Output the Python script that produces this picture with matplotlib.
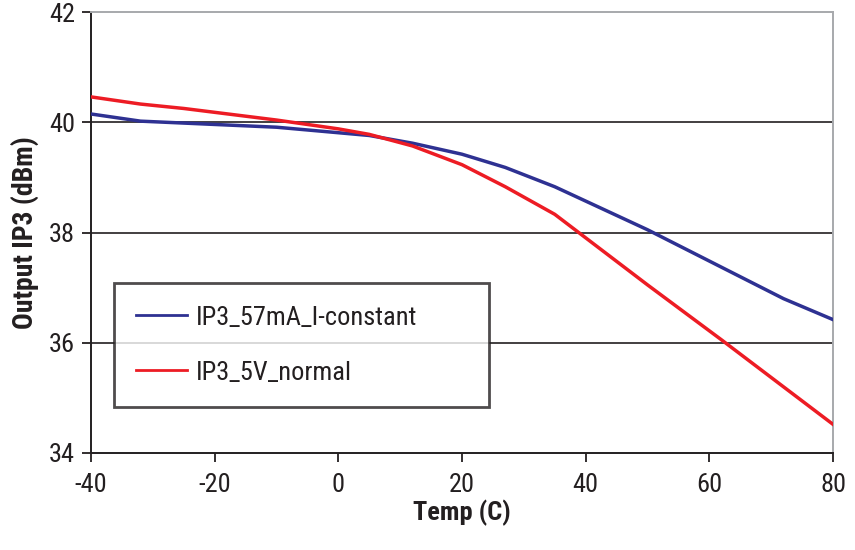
import matplotlib
matplotlib.use("Agg")
import matplotlib.pyplot as plt
from matplotlib import font_manager

# ---- data ----
temp_blue = [-40, -32, -20, -10, 0, 5, 12, 20, 27, 35, 50, 72, 80]
ip3_blue = [40.15, 40.02, 39.96, 39.91, 39.81, 39.76, 39.62, 39.42, 39.18, 38.83, 38.05, 36.80, 36.42]
temp_red = [-40, -32, -25, -10, 0, 5, 12, 20, 27, 35, 50, 62, 80]
ip3_red = [40.46, 40.33, 40.25, 40.04, 39.88, 39.78, 39.57, 39.23, 38.83, 38.33, 37.05, 36.05, 34.52]
label_blue = "IP3_57mA_I-constant"
label_red = "IP3_5V_normal"
x_ticks = [-40, -20, 0, 20, 40, 60, 80]
y_ticks = [34, 36, 38, 40, 42]
grid_levels = [36, 38, 40]

names = {f.name for f in font_manager.fontManager.ttflist}
family = "Liberation Sans"
for cand in ["Roboto Condensed", "Liberation Sans Narrow", "DejaVu Sans Condensed", "Open Sans Condensed"]:
    if cand in names:
        family = cand
        break
plt.rcParams['font.family'] = [family, 'DejaVu Sans']
plt.rcParams['axes.unicode_minus'] = False

ink = '#231F20'
fig = plt.figure(figsize=(8.55, 5.5), dpi=100)
ax = fig.add_axes([91/855, 1 - 453/550, 742/855, 441/550])

ax.plot(temp_blue, ip3_blue, color='#2E3192', lw=2.5, label=label_blue, zorder=3)
ax.plot(temp_red, ip3_red, color='#ED1C24', lw=2.5, label=label_red, zorder=3)

ax.set_xlim(-40, 80)
ax.set_ylim(34, 42)
ax.set_xticks(x_ticks)
ax.set_yticks(y_ticks)
for yv in grid_levels:
    ax.axhline(yv, color=ink, lw=1.2, zorder=1)

for s in ['left', 'bottom']:
    ax.spines[s].set_color(ink)
    ax.spines[s].set_linewidth(1.4)
for s in ['top', 'right']:
    ax.spines[s].set_color('#A7A9AC')
    ax.spines[s].set_linewidth(1.4)

ax.tick_params(axis='both', direction='out', length=6.5, width=1.3, color=ink,
               labelsize=19, labelcolor=ink)
ax.tick_params(axis='x', pad=8)
ax.tick_params(axis='y', pad=5)
ax.set_xlabel("Temp (C)", fontsize=19, fontweight='bold', color=ink, labelpad=2)
ax.set_ylabel("Output IP3 (dBm)", fontsize=20, fontweight='bold', color=ink, labelpad=7)

leg = ax.legend(loc='lower left', bbox_to_anchor=(23/742, 46/441, 375/742, 123/441),
                mode='expand', borderaxespad=0, fontsize=19, frameon=True, fancybox=False,
                handlelength=1.93, handletextpad=0.34, labelspacing=1.17, borderpad=0.85)
leg.get_frame().set_edgecolor(ink)
leg.get_frame().set_linewidth(2.0)
for t in leg.get_texts():
    t.set_color(ink)
for h in leg.get_lines():
    h.set_linewidth(2.0)

fig.savefig("out.png", dpi=100)
